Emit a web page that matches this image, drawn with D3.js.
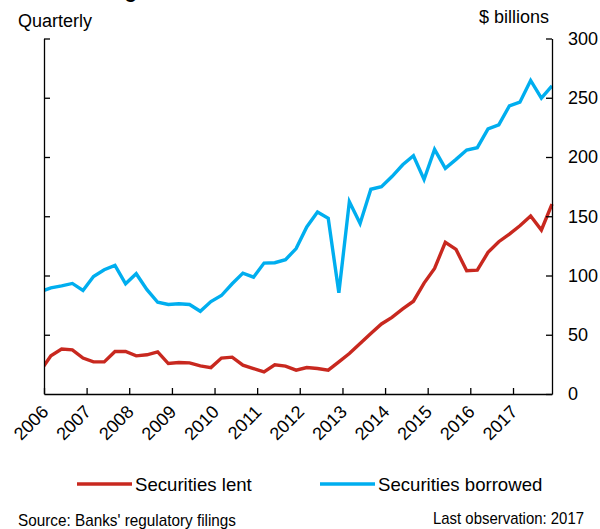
<!DOCTYPE html>
<html>
<head>
<meta charset="utf-8">
<script src="https://cdn.jsdelivr.net/npm/d3@7"></script>
<style>
    body { margin: 0; background: #fff; }
    svg { display: block; font-family: "Liberation Sans", Arial, sans-serif; }
</style>
</head>
<body>
<svg id="chart" width="600" height="529"></svg>
<script>
// quarter-end months; first point (Dec 2005) sits just left of the axis and gets clipped
const quarters = [
    '2005-12',
    '2006-03', '2006-06', '2006-09', '2006-12',
    '2007-03', '2007-06', '2007-09', '2007-12',
    '2008-03', '2008-06', '2008-09', '2008-12',
    '2009-03', '2009-06', '2009-09', '2009-12',
    '2010-03', '2010-06', '2010-09', '2010-12',
    '2011-03', '2011-06', '2011-09', '2011-12',
    '2012-03', '2012-06', '2012-09', '2012-12',
    '2013-03', '2013-06', '2013-09', '2013-12',
    '2014-03', '2014-06', '2014-09', '2014-12',
    '2015-03', '2015-06', '2015-09', '2015-12',
    '2016-03', '2016-06', '2016-09', '2016-12',
    '2017-03', '2017-06', '2017-09', '2017-12',
];

const securitiesLent = [
    19.5,
    32.2, 37.9, 37.3, 30.3,
    27.1, 27.1, 35.9, 35.9,
    32.2, 33.1, 35.6, 25.7,
    26.6, 26.3, 23.7, 22.3,
    30.3, 31.1, 24.3, 21.5,
    18.7, 24.6, 23.5, 20.1,
    22.3, 21.5, 20.1, 27.1,
    34.2, 42.7, 51.1, 59.1,
    64.7, 71.8, 78.3, 93.6,
    106.0, 128.0, 122.0, 104.0,
    104.5, 119.5, 128.5, 135.0,
    142.0, 150.2, 138.4, 160.3,
];

const securitiesBorrowed = [
    86.3,
    89.6, 91.3, 93.3, 87.4,
    99.2, 104.9, 108.6, 93.0,
    101.5, 88.0, 77.4, 75.5,
    76.1, 75.5, 69.8, 78.0,
    83.1, 93.0, 102.0, 98.6,
    110.5, 110.8, 113.4, 122.7,
    141.0, 153.5, 148.2, 85.4,
    162.3, 143.9, 172.8, 175.0,
    183.5, 193.4, 201.0, 181.0,
    206.4, 190.4, 198.0, 205.9,
    207.9, 223.7, 227.1, 243.2,
    246.3, 264.6, 249.7, 260.0,
];

const yearTicks = d3.range(2006, 2018);
const yTicks = [0, 50, 100, 150, 200, 250, 300];

const series = [
    { name: 'Securities lent', values: securitiesLent, color: '#c8281f' },
    { name: 'Securities borrowed', values: securitiesBorrowed, color: '#00aeef' },
];

const plot = { left: 44, right: 552, top: 38.5, bottom: 394 };
const fontSize = 18;

const parseMonth = d3.timeParse('%Y-%m');
const dates = quarters.map(parseMonth);

const svg = d3.select('#chart');

const x = d3.scaleTime()
    .domain([new Date(2006, 0, 1), new Date(2017, 11, 1)])
    .range([plot.left, plot.right]);

const y = d3.scaleLinear()
    .domain([0, 300])
    .range([plot.bottom, plot.top]);

// clipped title, only the descenders show
svg.append('text')
    .attr('x', 37)
    .attr('y', -2.5)
    .attr('font-size', 20)
    .attr('font-weight', 'bold')
    .text('Borrowing');

svg.append('text')
    .attr('x', 18)
    .attr('y', 27)
    .attr('font-size', fontSize)
    .text('Quarterly');

svg.append('text')
    .attr('x', 549)
    .attr('y', 23)
    .attr('font-size', fontSize)
    .attr('text-anchor', 'end')
    .text('$ billions');

svg.append('defs').append('clipPath')
    .attr('id', 'plot-clip')
    .append('rect')
    .attr('x', plot.left)
    .attr('y', 0)
    .attr('width', plot.right - plot.left + 4)
    .attr('height', plot.bottom);

const line = d3.line()
    .x((d, i) => x(dates[i]))
    .y(d => y(d));

const lines = svg.append('g')
    .attr('class', 'lines')
    .attr('clip-path', 'url(#plot-clip)');

lines.selectAll('path')
    .data(series)
    .join('path')
    .attr('fill', 'none')
    .attr('stroke', d => d.color)
    .attr('stroke-width', 3.4)
    .attr('stroke-linejoin', 'miter')
    .attr('d', d => line(d.values));

// axes: ticks point inwards
const axisStyle = g => {
    g.select('.domain').attr('stroke', '#000').attr('stroke-width', 1.3);
    g.selectAll('.tick line').attr('stroke', '#000').attr('stroke-width', 1.3);
    g.selectAll('.tick text').attr('font-size', fontSize).attr('fill', '#000')
        .attr('font-family', '"Liberation Sans", Arial, sans-serif');
};

const xAxis = d3.axisBottom(x)
    .tickValues(yearTicks.map(yr => new Date(yr, 0, 1)))
    .tickSize(-6)
    .tickSizeOuter(0)
    .tickFormat(d3.timeFormat('%Y'));

const gX = svg.append('g')
    .attr('class', 'axis axis--x')
    .attr('transform', `translate(0,${plot.bottom})`)
    .call(xAxis)
    .call(axisStyle);

gX.selectAll('.tick text')
    .attr('text-anchor', 'end')
    .attr('dy', null)
    .attr('y', 0)
    .attr('transform', 'translate(5,19) rotate(-45)');

const yAxisRight = d3.axisRight(y)
    .tickValues(yTicks)
    .tickSize(-6)
    .tickSizeOuter(0)
    .tickPadding(16);

svg.append('g')
    .attr('class', 'axis axis--right')
    .attr('transform', `translate(${plot.right},0)`)
    .call(yAxisRight)
    .call(axisStyle);

const yAxisLeft = d3.axisLeft(y)
    .tickValues(yTicks.slice(1))
    .tickSize(-6)
    .tickSizeOuter(0)
    .tickFormat('');

svg.append('g')
    .attr('class', 'axis axis--left')
    .attr('transform', `translate(${plot.left},0)`)
    .call(yAxisLeft)
    .call(axisStyle);

// legend
const legendItems = [
    { x: 77, textX: 135 },
    { x: 320, textX: 378 },
];

const legend = svg.append('g').attr('class', 'legend');

const item = legend.selectAll('.item')
    .data(series)
    .join('g')
    .attr('class', 'item');

item.append('line')
    .attr('x1', (d, i) => legendItems[i].x)
    .attr('x2', (d, i) => legendItems[i].x + 55)
    .attr('y1', 484)
    .attr('y2', 484)
    .attr('stroke', d => d.color)
    .attr('stroke-width', 3.4);

item.append('text')
    .attr('x', (d, i) => legendItems[i].textX)
    .attr('y', 491)
    .attr('font-size', 18.6)
    .text(d => d.name);

svg.append('text')
    .attr('x', 18)
    .attr('y', 526)
    .attr('font-size', 17)
    .attr('textLength', 218)
    .attr('lengthAdjust', 'spacingAndGlyphs')
    .text("Source: Banks' regulatory filings");

svg.append('text')
    .attr('x', 433)
    .attr('y', 524)
    .attr('font-size', 17)
    .attr('textLength', 151)
    .attr('lengthAdjust', 'spacingAndGlyphs')
    .text('Last observation: 2017');
</script>
</body>
</html>
